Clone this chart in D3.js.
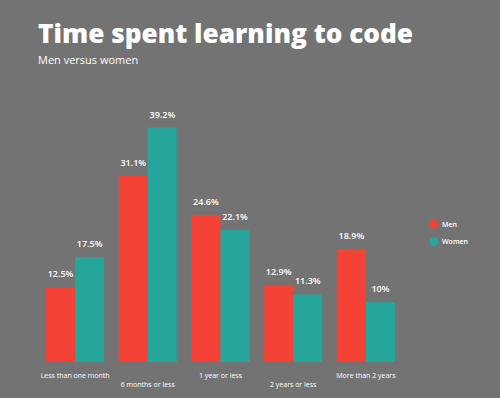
<!DOCTYPE html>
<html>
<head>
<meta charset="utf-8">
<script src="https://cdn.jsdelivr.net/npm/d3@7"></script>
<style>
  body { margin: 0; background: #737373; }
  text { font-family: "Open Sans", sans-serif; fill: #fff; }
</style>
</head>
<body>
<div class="container"></div>
<script>
// data
const categories = ['Less than one month', '6 months or less', '1 year or less', '2 years or less', 'More than 2 years']
const series = ['Men', 'Women']
const men = [12.5, 31.1, 24.6, 12.9, 18.9]
const women = [17.5, 39.2, 22.1, 11.3, 10]
const valueLabels = [
    ['12.5%', '31.1%', '24.6%', '12.9%', '18.9%'],
    ['17.5%', '39.2%', '22.1%', '11.3%', '10%']
]

const W = 500, H = 398
const colors = ['#f44336', '#26a69a']

const svg = d3.select('.container')
    .append('svg')
    .attr('width', W)
    .attr('height', H)

svg.append('rect').attr('width', W).attr('height', H).attr('fill', '#737373')

// titles
svg.append('text')
    .attr('x', 38).attr('y', 43)
    .attr('textLength', 375)
    .attr('lengthAdjust', 'spacingAndGlyphs')
    .style('font-size', '26.5px')
    .style('font-weight', 800)
    .text('Time spent learning to code')
svg.append('text')
    .attr('x', 38).attr('y', 64)
    .style('font-size', '11px')
    .text('Men versus women')

// scales
const x = d3.scaleBand()
    .domain(categories)
    .range([46, 395])
    .paddingInner(0.2)
    .paddingOuter(0)
const xs = d3.scaleBand()
    .domain(series)
    .range([0, x.bandwidth()])
const y = d3.scaleLinear()
    .domain([0, 39.2])
    .range([362, 127.5])

const data = [men, women]

const groups = svg.selectAll('g.grp')
    .data(categories)
    .join('g')
    .attr('class', 'grp')
    .attr('transform', d => `translate(${x(d)},0)`)

series.forEach((s, si) => {
    groups.append('rect')
        .attr('x', xs(s))
        .attr('width', xs.bandwidth())
        .attr('y', (d, i) => y(data[si][i]))
        .attr('height', (d, i) => y(0) - y(data[si][i]))
        .attr('fill', colors[si])
    groups.append('text')
        .attr('x', xs(s) + xs.bandwidth() / 2)
        .attr('y', (d, i) => y(data[si][i]) - 10)
        .attr('text-anchor', 'middle')
        .style('font-size', '9px')
        .style('font-weight', 600)
        .text((d, i) => valueLabels[si][i])
})

// category labels, alternating rows
groups.append('text')
    .attr('x', x.bandwidth() / 2)
    .attr('y', (d, i) => i % 2 ? 387 : 378)
    .attr('text-anchor', 'middle')
    .style('font-size', '7px')
    .text(d => d)

// legend
const legend = svg.selectAll('g.leg')
    .data(series)
    .join('g')
    .attr('class', 'leg')
    .attr('transform', (d, i) => `translate(434,${224 + i * 17.5})`)
legend.append('circle')
    .attr('r', 4.5)
    .attr('fill', (d, i) => colors[i])
legend.append('text')
    .attr('x', 8)
    .attr('y', 2.5)
    .style('font-size', '7px')
    .style('font-weight', 600)
    .text(d => d)
</script>
</body>
</html>
